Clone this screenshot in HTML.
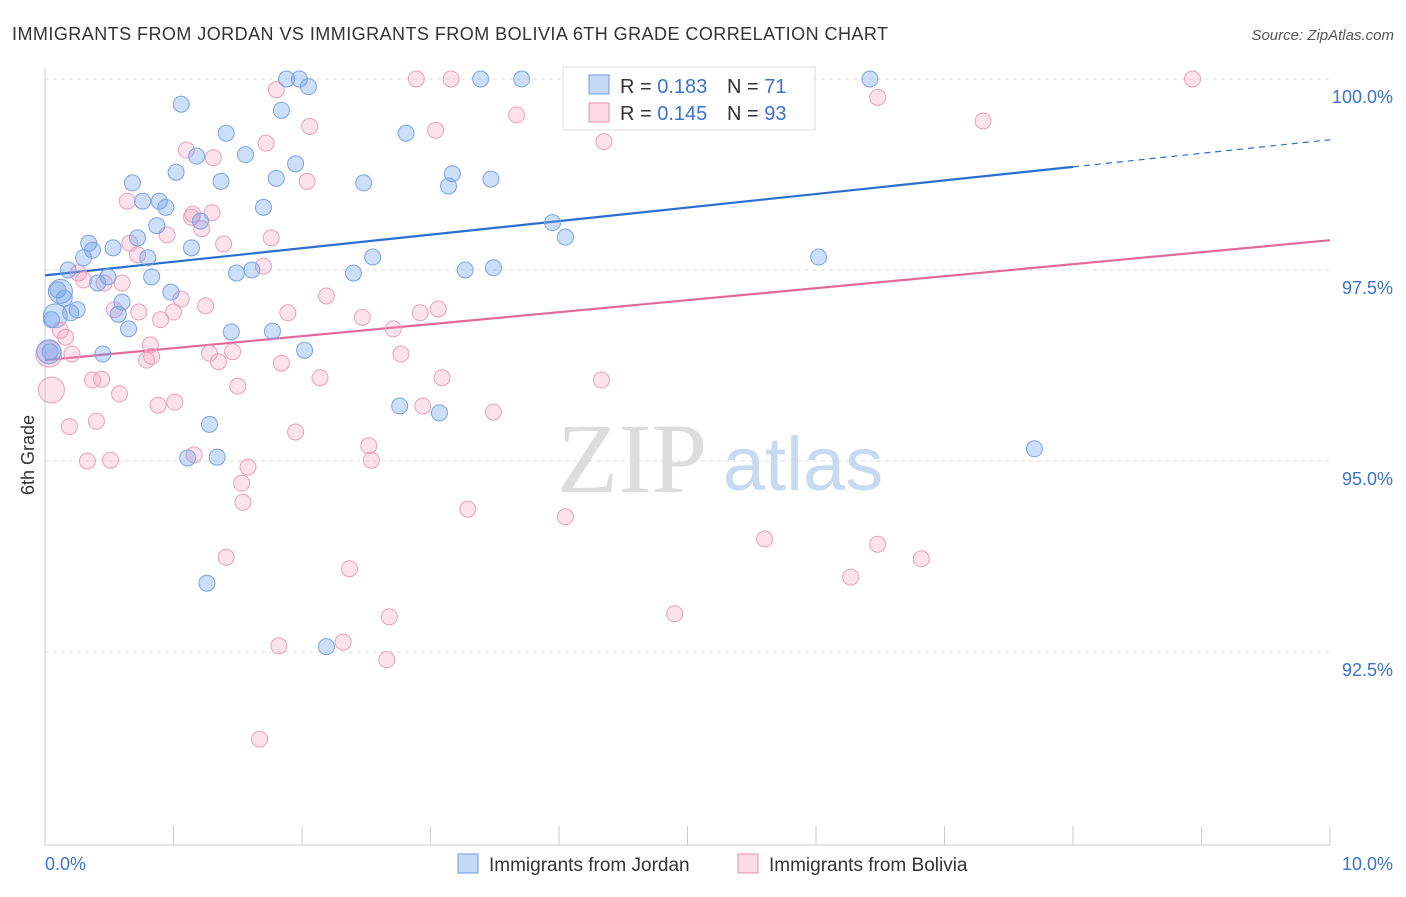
<!DOCTYPE html>
<html><head><meta charset="utf-8"><style>
body{margin:0;background:#fff;font-family:"Liberation Sans",sans-serif}
</style></head><body>
<svg width="1406" height="892" xmlns="http://www.w3.org/2000/svg" font-family="Liberation Sans, sans-serif">
<text x="12" y="40" font-size="18" fill="#333" textLength="876" lengthAdjust="spacing">IMMIGRANTS FROM JORDAN VS IMMIGRANTS FROM BOLIVIA 6TH GRADE CORRELATION CHART</text>
<text x="1394" y="40" font-size="15" fill="#555" text-anchor="end" font-style="italic">Source: ZipAtlas.com</text>
<text x="34" y="455" font-size="18" fill="#333" text-anchor="middle" transform="rotate(-90 34 455)">6th Grade</text>
<g>
<text x="632" y="492" font-size="100" fill="#ddd" text-anchor="middle" font-family="Liberation Serif, serif">ZIP</text>
<text x="803" y="490" font-size="76" fill="#c8daf2" text-anchor="middle">atlas</text>
</g>
<g id="grid"></g><g id="axes"></g><g id="lines"></g><g id="pts"></g>
<g>
<rect x="563" y="67" width="252" height="63" fill="#fff" stroke="#ddd"/>
<rect x="589" y="75" width="20" height="19" fill="rgba(110,160,235,0.4)" stroke="#6a9ae0"/>
<rect x="589" y="103" width="20" height="19" fill="rgba(245,160,190,0.4)" stroke="#e890b0"/>
<text x="620" y="93" font-size="20" fill="#333">R = <tspan fill="#3b72d0">0.183</tspan></text>
<text x="727" y="93" font-size="20" fill="#333">N = <tspan fill="#3b72d0">71</tspan></text>
<text x="620" y="120" font-size="20" fill="#333">R = <tspan fill="#3b72d0">0.145</tspan></text>
<text x="727" y="120" font-size="20" fill="#333">N = <tspan fill="#3b72d0">93</tspan></text>
</g>
<g>
<rect x="458" y="854" width="20" height="19" fill="rgba(110,160,235,0.4)" stroke="#6a9ae0"/>
<text x="489" y="871" font-size="19" fill="#333">Immigrants from Jordan</text>
<rect x="738" y="854" width="20" height="19" fill="rgba(245,160,190,0.4)" stroke="#e890b0"/>
<text x="769" y="871" font-size="19" fill="#333">Immigrants from Bolivia</text>
</g>
</svg>
<script>
const yTicks=[100,97.5,95,92.5];
const yTickLabels=["100.0%","97.5%","95.0%","92.5%"];
const xTickLabels=["0.0%","10.0%"];
const blueX=[1.88,1.98,2.05,3.39,3.71,6.42,1.06,1.84,1.41,2.81,1.56,1.18,1.95,1.02,1.80,1.37,0.68,2.48,3.17,3.14,3.47,0.76,0.89,0.94,1.70,1.21,0.87,3.95,0.72,0.34,0.53,0.37,1.14,4.05,0.30,0.80,2.55,6.02,0.18,1.61,1.49,2.40,3.27,3.49,0.83,0.49,0.41,0.10,0.98,0.15,0.60,0.25,0.20,0.57,0.65,1.45,1.77,0.05,0.45,2.02,0.04,2.76,3.07,1.28,1.11,1.34,7.70,1.26,2.19];
const blueY=[100,100,99.90,100,100,100,99.67,99.59,99.29,99.29,99.01,98.99,98.89,98.78,98.70,98.66,98.64,98.64,98.76,98.60,98.69,98.40,98.40,98.32,98.32,98.14,98.08,98.12,97.92,97.85,97.79,97.76,97.79,97.93,97.66,97.66,97.67,97.67,97.50,97.50,97.46,97.46,97.50,97.53,97.41,97.41,97.33,97.24,97.21,97.13,97.08,96.98,96.94,96.92,96.73,96.69,96.70,96.85,96.40,96.45,96.43,95.72,95.63,95.48,95.04,95.05,95.16,93.40,92.57];
const pinkX=[2.89,3.16,4.11,5.57,8.93,1.80,6.48,3.67,7.30,2.06,3.04,1.72,4.35,1.10,1.31,2.04,0.64,1.15,1.30,1.14,1.22,0.95,1.76,1.39,0.66,0.72,1.70,0.26,0.30,0.46,0.60,2.19,1.06,1.25,1.00,0.54,0.73,0.90,1.89,2.47,3.06,2.92,2.71,0.12,0.16,0.82,0.83,0.79,1.28,1.46,0.21,2.77,1.84,1.35,0.37,0.44,2.14,3.09,4.33,1.50,0.58,1.01,0.88,2.94,3.49,0.40,0.19,1.95,2.52,2.54,0.33,0.51,1.16,1.58,1.53,1.54,3.29,4.05,5.60,6.48,1.41,6.82,2.37,6.27,2.68,4.90,1.82,2.32,2.66,1.67];
const pinkY=[100,100,100,100,100,99.86,99.76,99.53,99.45,99.38,99.33,99.16,99.18,99.07,98.97,98.66,98.40,98.23,98.25,98.19,98.04,97.96,97.92,97.84,97.85,97.70,97.55,97.46,97.37,97.33,97.33,97.16,97.12,97.03,96.95,96.98,96.95,96.85,96.94,96.88,96.99,96.94,96.73,96.71,96.62,96.52,96.37,96.32,96.41,96.43,96.40,96.40,96.28,96.30,96.06,96.07,96.09,96.09,96.06,95.98,95.88,95.77,95.73,95.72,95.64,95.52,95.45,95.38,95.20,95.01,95.00,95.01,95.08,94.92,94.71,94.46,94.37,94.27,93.98,93.91,93.74,93.72,93.59,93.48,92.96,93.00,92.58,92.63,92.40,91.36];
const bigBlueX=[0.03,0.08,0.12],bigBlueY=[96.43,96.90,97.22];
const bigPinkX=[0.05,0.03],bigPinkY=[95.93,96.40];
const blueLine=[97.43,0.1775];
const pinkLine=[96.32,0.157];
const X0=45,X1=1330,YT=79,PXPER=76.4;
const sx=v=>X0+(v/10)*(X1-X0);
const sy=v=>YT+(100-v)*PXPER;
const NS='http://www.w3.org/2000/svg';
function mk(tag,at,parent){const e=document.createElementNS(NS,tag);for(const k in at)e.setAttribute(k,at[k]);parent.appendChild(e);return e;}
const grid=document.getElementById('grid'),axes=document.getElementById('axes'),lines=document.getElementById('lines'),pts=document.getElementById('pts');
yTicks.forEach((t,i)=>{
 const l=mk('line',{x1:X0,x2:X1,y1:sy(t),y2:sy(t),stroke:'#ddd','stroke-dasharray':'4,4'},grid);
 
 
 const tx=mk('text',{x:1393,y:sy(t)+24,'font-size':18,fill:'#3b72d0','text-anchor':'end'},axes);
 tx.textContent=yTickLabels[i];
 
 
});
const ax=mk('line',{x1:X0,x2:X1,y1:845,y2:845,stroke:'#ccc'},axes);


const ay=mk('line',{x1:X0,x2:X0,y1:68,y2:845,stroke:'#ccc'},axes);


for(let i=0;i<=10;i++){
 const t=mk('line',{x1:sx(i),x2:sx(i),y1:826,y2:845,stroke:'#ccc'},axes);
 
 
}
const xl0=mk('text',{x:45,y:870,'font-size':18,fill:'#3b72d0'},axes);xl0.textContent=xTickLabels[0];


const xl1=mk('text',{x:1393,y:870,'font-size':18,fill:'#3b72d0','text-anchor':'end'},axes);xl1.textContent=xTickLabels[1];


function dot(x,y,r,fill,stroke,name){const c=mk('circle',{cx:sx(x),cy:sy(y),r:r,fill:fill,stroke:stroke,'stroke-width':1},pts);
 
 }
const BF='rgba(110,160,235,0.35)',BS='#7aa5e3',PF='rgba(245,160,190,0.3)',PS='#eba0bc';
bigPinkX.forEach((x,i)=>dot(x,bigPinkY[i],13,PF,PS,'bolivia-point'));
bigBlueX.forEach((x,i)=>dot(x,bigBlueY[i],12,BF,BS,'jordan-point'));
pinkX.forEach((x,i)=>dot(x,pinkY[i],8,PF,PS,'bolivia-point'));
blueX.forEach((x,i)=>dot(x,blueY[i],8,BF,BS,'jordan-point'));
const bl=mk('line',{x1:sx(0),y1:sy(blueLine[0]),x2:sx(8),y2:sy(blueLine[0]+blueLine[1]*8),stroke:'#2a6fd0','stroke-width':2.2},lines);


const bd=mk('line',{x1:sx(8),y1:sy(blueLine[0]+blueLine[1]*8),x2:sx(10),y2:sy(blueLine[0]+blueLine[1]*10),stroke:'#2a6fd0','stroke-width':1.2,'stroke-dasharray':'6,5'},lines);


const pl=mk('line',{x1:sx(0),y1:sy(pinkLine[0]),x2:sx(10),y2:sy(pinkLine[0]+pinkLine[1]*10),stroke:'#e06a9a','stroke-width':2.2},lines);


</script>
</body></html>
